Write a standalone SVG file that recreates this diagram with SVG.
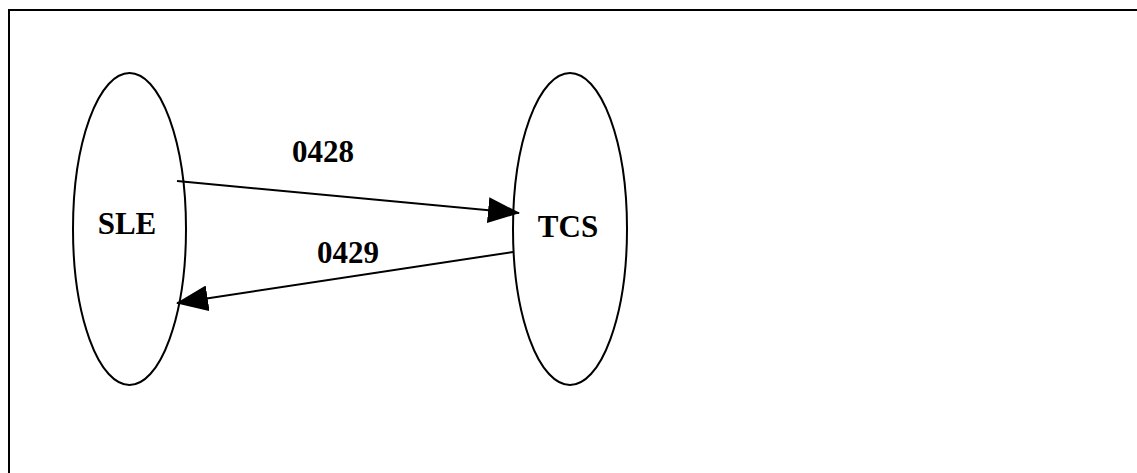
<svg xmlns="http://www.w3.org/2000/svg" width="1137" height="473" viewBox="0 0 1137 473">
<style>
.node{fill:#fff;stroke:#000;stroke-width:2}
.lbl{font-family:"Liberation Serif","Times New Roman",serif;font-weight:bold;font-size:31px;fill:#000;text-anchor:middle}
.edge{stroke:#000;stroke-width:2;fill:none}
</style>
<defs>
<marker id="ah" viewBox="0 0 32 26" refX="31" refY="13" markerWidth="32" markerHeight="26" markerUnits="userSpaceOnUse" orient="auto">
<path d="M0,0 L32,13 L0,26 Z" fill="#000"/>
</marker>
</defs>
<rect x="0" y="0" width="1137" height="473" fill="#fff"/>
<rect x="9" y="10" width="1140" height="480" fill="none" stroke="#000" stroke-width="2"/>
<g id="SLE">
<ellipse class="node" cx="129.5" cy="229" rx="56.5" ry="156"/>
<text class="lbl" x="127" y="234">SLE</text>
</g>
<g id="TCS">
<ellipse class="node" cx="570" cy="229" rx="57" ry="156"/>
<text class="lbl" x="568" y="237">TCS</text>
</g>
<g id="connectors">
<line class="edge" x1="177" y1="181" x2="519" y2="213" marker-end="url(#ah)"/>
<line class="edge" x1="513" y1="252" x2="177" y2="303" marker-end="url(#ah)"/>
<text class="lbl" x="323" y="162">0428</text>
<text class="lbl" x="348" y="263">0429</text>
</g>
</svg>
